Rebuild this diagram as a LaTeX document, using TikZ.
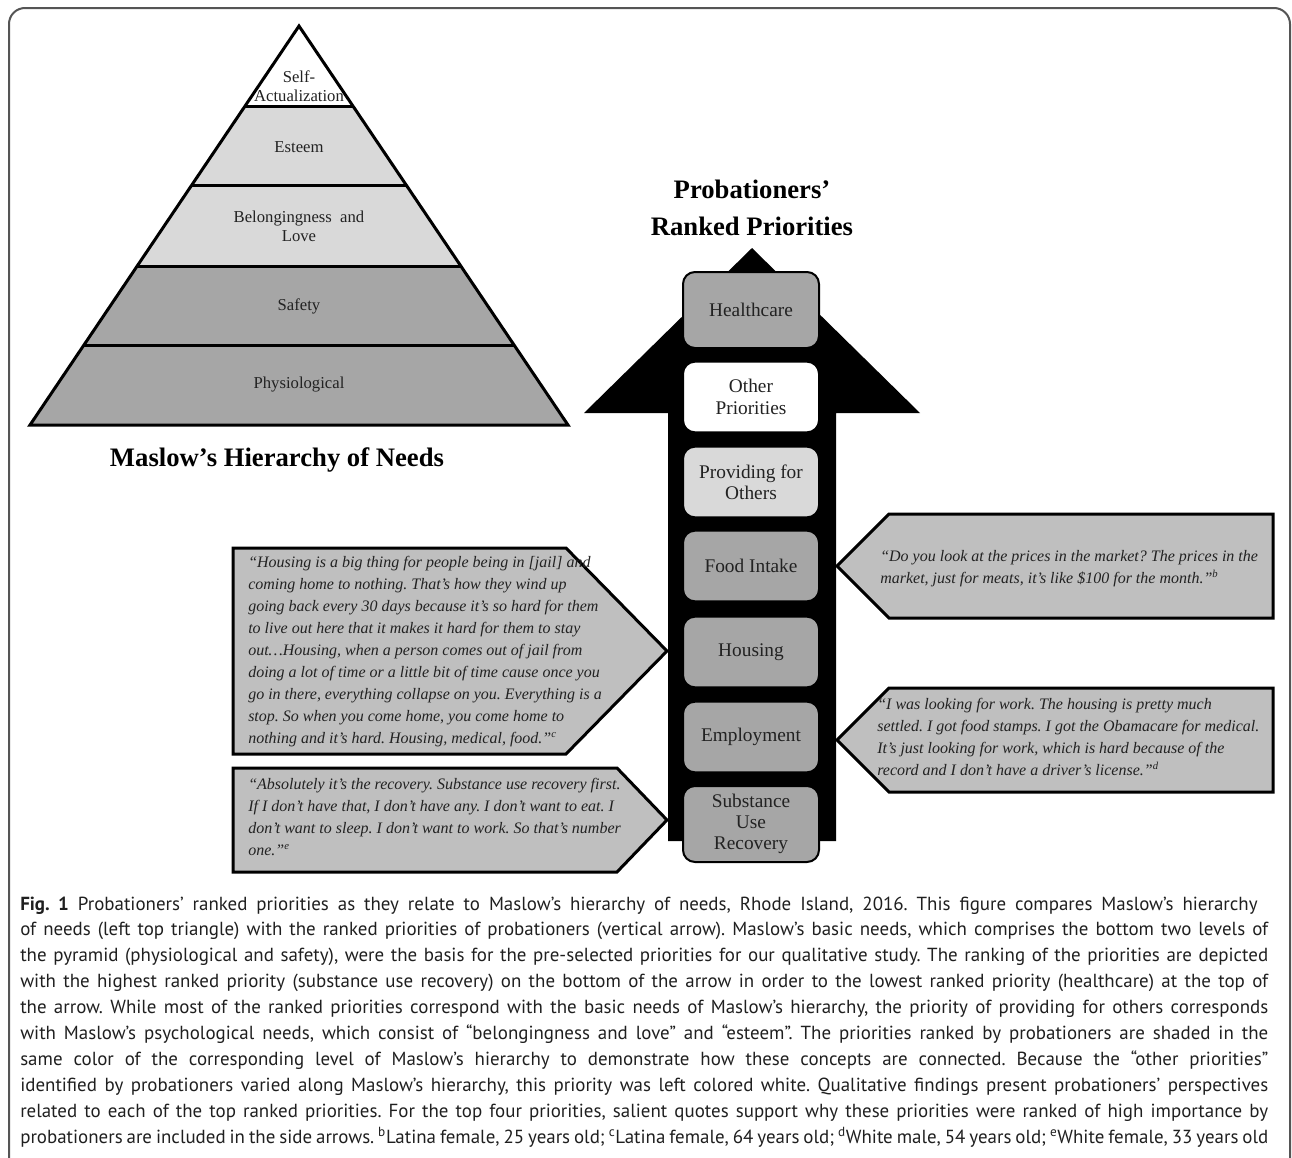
\documentclass[tikz,border=0pt]{standalone}
\usepackage{fontspec}
\setmainfont{Liberation Serif}
\newfontfamily\capfont{PT Sans}
\definecolor{lgray}{HTML}{D9D9D9}
\definecolor{mgray}{HTML}{A6A6A6}
\definecolor{qgray}{HTML}{BFBFBF}
\definecolor{txt}{HTML}{222222}
\definecolor{framecol}{HTML}{555555}
\frenchspacing
\begin{document}
\begin{tikzpicture}[x=0.75pt,y=-0.75pt,
  lvl/.style={font=\fontsize{12.5}{14.5}\selectfont, text=txt, align=center, inner sep=0},
  ptitle/.style={font=\fontsize{20}{27.75}\selectfont\bfseries, align=center, inner sep=0},
  pbox/.style={draw=black, line width=1.5pt, rounded corners=9pt, minimum width=102pt, minimum height=53pt, align=center, font=\fontsize{14.5}{16}\selectfont, text=txt, inner sep=0},
  tallbox/.style={pbox, minimum height=57pt},
  quotebox/.style={draw=black, line width=2.25pt, fill=qgray, line join=miter},
  qtext/.style={font=\fontsize{12}{16.5}\selectfont\itshape, text=txt, align=left, inner sep=0, anchor=north west},
  capline/.style={font=\capfont\fontsize{14.2}{17}\selectfont, text=black!88, anchor=base west, inner sep=0},
  lvlline/.style={line width=2.25pt, black}
]
\useasboundingbox (0,0) rectangle (1292,1157);
% frame
\draw[framecol, line width=1.5pt, rounded corners=12pt] (9,1190) -- (9,8) -- (1290,8) -- (1290,1190);

% pyramid
\coordinate (apex) at (299,26);
\fill[white] (apex) -- (245.1,106) -- (352.9,106) -- cycle;
\fill[lgray] (245.1,106) -- (352.9,106) -- (460.8,266) -- (137.2,266) -- cycle;
\fill[mgray] (137.2,266) -- (460.8,266) -- (568,425) -- (30,425) -- cycle;
\draw[lvlline] (245.1,106) -- (352.9,106);
\draw[lvlline] (191.8,185) -- (406.2,185);
\draw[lvlline] (137.2,266) -- (460.8,266);
\draw[lvlline] (83.9,345) -- (514.1,345);
\draw[lvlline, line join=miter] (apex) -- (568,425) -- (30,425) -- cycle;
\node[lvl] (selfact) at (299,86) {Self-\\Actualization};
\node[lvl] (esteem) at (299,147) {Esteem};
\node[lvl] (belong) at (299,226) {Belongingness\ \ and\\Love};
\node[lvl] (safety) at (299,306) {Safety};
\node[lvl] (physio) at (299,385) {Physiological};
\node[ptitle] (mtitle) at (277,460) {Maslow’s Hierarchy of Needs};

% right title
\node[ptitle] (ptitle) at (752,208) {Probationers’\\Ranked Priorities};

% big arrow
\fill[black] (668,841) -- (668,413) -- (584,413) -- (752,248) -- (920,413) -- (836,413) -- (836,841) -- cycle;

% priority boxes
\node[tallbox, fill=mgray] (hc) at (751,310) {Healthcare};
\node[pbox, fill=white] (op) at (751,397) {Other\\Priorities};
\node[pbox, fill=lgray] (pf) at (751,482) {Providing for\\Others};
\node[pbox, fill=mgray] (fi) at (751,566) {Food Intake};
\node[pbox, fill=mgray] (ho) at (751,652) {Housing};
\node[pbox, fill=mgray] (em) at (751,737) {Employment};
\node[tallbox, fill=mgray] (su) at (751,824) {Substance\\Use\\Recovery};

% quote arrows
\draw[quotebox] (233,548) -- (566,548) -- (667,651) -- (566,754) -- (233,754) -- cycle;
\draw[quotebox] (233,768) -- (617,768) -- (667,820) -- (617,872) -- (233,872) -- cycle;
\draw[quotebox] (837,566) -- (889,514) -- (1273,514) -- (1273,618) -- (889,618) -- cycle;
\draw[quotebox] (837,740) -- (889,688) -- (1273,688) -- (1273,792) -- (889,792) -- cycle;

\node[qtext] (q1) at (248,556) {“Housing is a big thing for people being in [jail] and\\
coming home to nothing. That’s how they wind up\\
going back every 30 days because it’s so hard for them\\
to live out here that it makes it hard for them to stay\\
out…Housing, when a person comes out of jail from\\
doing a lot of time or a little bit of time cause once you\\
go in there, everything collapse on you. Everything is a\\
stop. So when you come home, you come home to\\
nothing and it’s hard. Housing, medical, food.”\textsuperscript{c}};
\node[qtext] (q2) at (248,778) {“Absolutely it’s the recovery. Substance use recovery first.\\
If I don’t have that, I don’t have any. I don’t want to eat. I\\
don’t want to sleep. I don’t want to work. So that’s number\\
one.”\textsuperscript{e}};
\node[qtext] (q3) at (880,550) {“Do you look at the prices in the market? The prices in the\\
market, just for meats, it’s like \$100 for the month.”\textsuperscript{b}};
\node[qtext] (q4) at (877,698) {“I was looking for work. The housing is pretty much\\
settled. I got food stamps. I got the Obamacare for medical.\\
It’s just looking for work, which is hard because of the\\
record and I don’t have a driver’s license.”\textsuperscript{d}};

% caption
\node[capline] (c1) at (20,910) {\makebox[928pt][s]{\textbf{Fig. 1} Probationers’ ranked priorities as they relate to Maslow’s hierarchy of needs, Rhode Island, 2016. This figure compares Maslow’s hierarchy}};
\node[capline] (c2) at (20,935.9) {\makebox[936pt][s]{of needs (left top triangle) with the ranked priorities of probationers (vertical arrow). Maslow’s basic needs, which comprises the bottom two levels of}};
\node[capline] (c3) at (20,961.8) {\makebox[936pt][s]{the pyramid (physiological and safety), were the basis for the pre-selected priorities for our qualitative study. The ranking of the priorities are depicted}};
\node[capline] (c4) at (20,987.7) {\makebox[936pt][s]{with the highest ranked priority (substance use recovery) on the bottom of the arrow in order to the lowest ranked priority (healthcare) at the top of}};
\node[capline] (c5) at (20,1013.6) {\makebox[936pt][s]{the arrow. While most of the ranked priorities correspond with the basic needs of Maslow’s hierarchy, the priority of providing for others corresponds}};
\node[capline] (c6) at (20,1039.5) {\makebox[936pt][s]{with Maslow’s psychological needs, which consist of “belongingness and love” and “esteem”. The priorities ranked by probationers are shaded in the}};
\node[capline] (c7) at (20,1065.4) {\makebox[936pt][s]{same color of the corresponding level of Maslow’s hierarchy to demonstrate how these concepts are connected. Because the “other priorities”}};
\node[capline] (c8) at (20,1091.3) {\makebox[936pt][s]{identified by probationers varied along Maslow’s hierarchy, this priority was left colored white. Qualitative findings present probationers’ perspectives}};
\node[capline] (c9) at (20,1117.2) {\makebox[936pt][s]{related to each of the top ranked priorities. For the top four priorities, salient quotes support why these priorities were ranked of high importance by}};
\node[capline] (c10) at (20,1143.1) {\makebox[936pt][s]{probationers are included in the side arrows. \textsuperscript{b}Latina female, 25 years old; \textsuperscript{c}Latina female, 64 years old; \textsuperscript{d}White male, 54 years old; \textsuperscript{e}White female, 33 years old}};
\end{tikzpicture}
\end{document}
